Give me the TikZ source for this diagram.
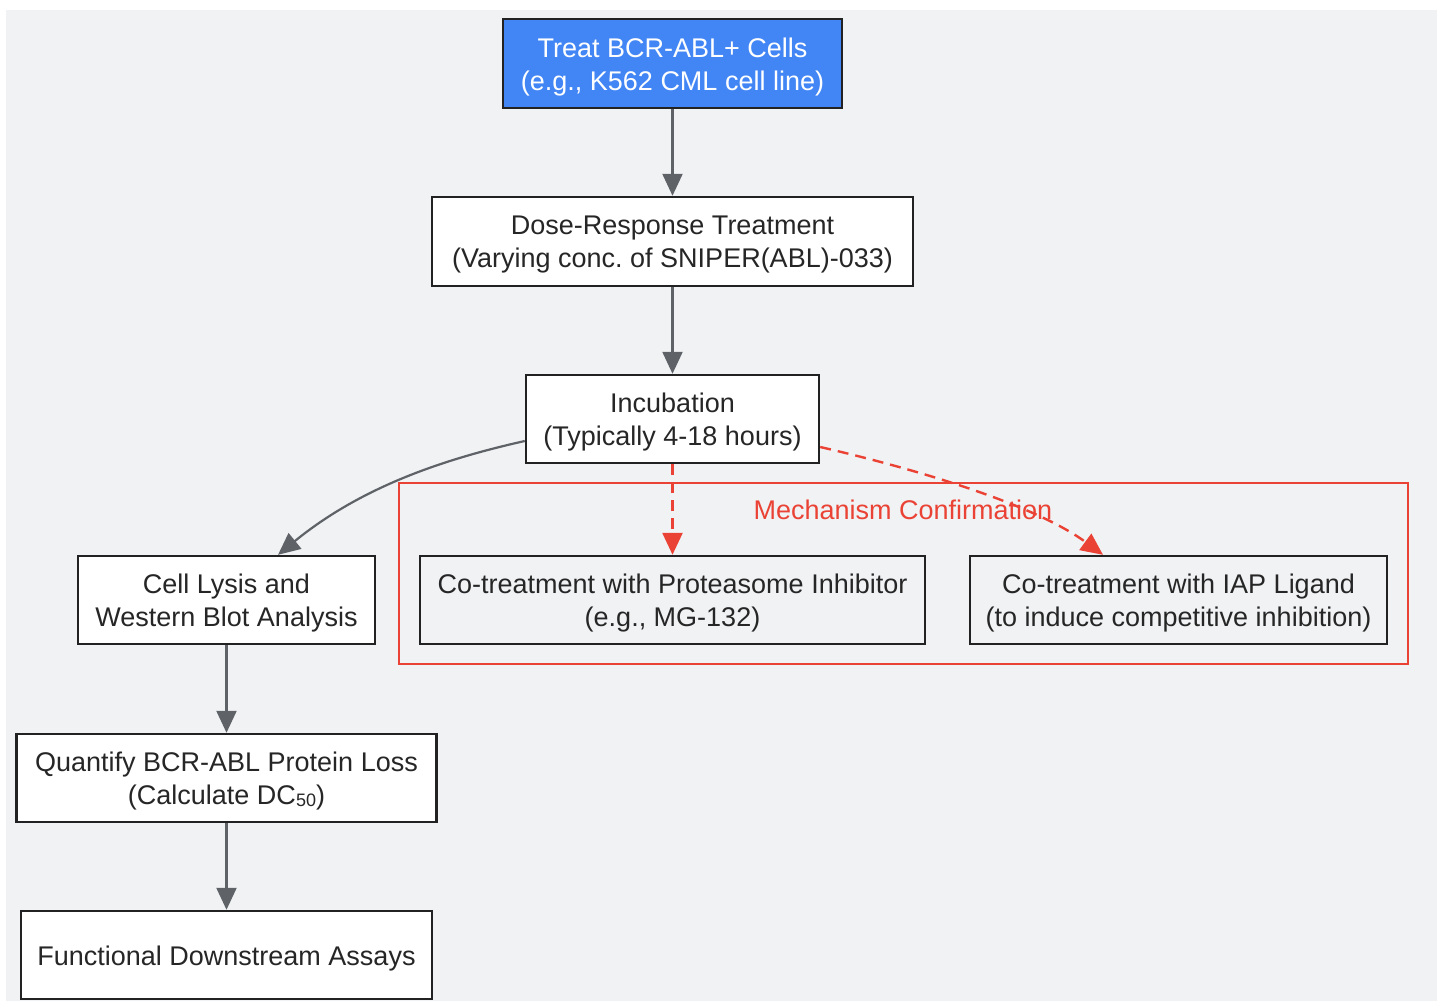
\documentclass[tikz,border=0pt]{standalone}
\usepackage{fontspec}
\setmainfont{Liberation Sans}
\usetikzlibrary{arrows.meta}
\frenchspacing
\definecolor{bgc}{HTML}{F1F2F4}
\definecolor{blu}{HTML}{4285F4}
\definecolor{edgec}{HTML}{222222}
\definecolor{txtc}{HTML}{262626}
\definecolor{arrc}{HTML}{5F6368}
\definecolor{redc}{HTML}{EA4335}
\tikzset{
  box/.style={draw=edgec, line width=2.4pt, fill=white, rectangle, inner sep=0pt},
  boxtext/.style={align=center, text=txtc, inner sep=0pt, yshift=-3.5pt,
    font=\fontsize{27}{33}\selectfont},
  clbox/.style={box, fill=bgc},
  startbox/.style={box, fill=blu},
  whitetext/.style={boxtext, text=white},
  flow/.style={draw=arrc, line width=2.2pt, -{Triangle[length=22pt,width=20pt]}},
  mech/.style={draw=redc, line width=2.4pt, dash pattern=on 11pt off 7pt,
    -{Triangle[length=22pt,width=20pt]}},
}
\begin{document}
\begin{tikzpicture}[x=1pt,y=-1pt]
\useasboundingbox (0,0) rectangle (1443,1001);
\fill[white] (0,0) rectangle (1443,1001);
\fill[bgc] (6,10) rectangle (1437,1001);
% cluster
\draw[redc, line width=2pt] (399,483) rectangle (1408,664);
\node[text=redc, font=\fontsize{27}{33}\selectfont] (mlabel) at (903,510) {Mechanism Confirmation};
% nodes
\node[startbox, minimum width=339pt, minimum height=89pt,
  label={[whitetext]center:{Treat BCR-ABL+ Cells\\(e.g., K562 CML cell line)}}] (treat) at (672.5,63.5) {};
\node[box, minimum width=481pt, minimum height=89pt,
  label={[boxtext]center:{Dose-Response Treatment\\(Varying conc. of SNIPER(ABL)-033)}}] (dose) at (672.5,241.5) {};
\node[box, minimum width=293pt, minimum height=88pt,
  label={[boxtext]center:{Incubation\\(Typically 4-18 hours)}}] (incub) at (672.5,419) {};
\node[box, minimum width=297pt, minimum height=88pt,
  label={[boxtext]center:{Cell Lysis and\\Western Blot Analysis}}] (lysis) at (226.5,600) {};
\node[clbox, minimum width=505pt, minimum height=88pt,
  label={[boxtext]center:{Co-treatment with Proteasome Inhibitor\\(e.g., MG-132)}}] (prot) at (672.5,600) {};
\node[clbox, minimum width=417pt, minimum height=88pt,
  label={[boxtext]center:{Co-treatment with IAP Ligand\\(to induce competitive inhibition)}}] (iap) at (1178.5,600) {};
\node[box, minimum width=420pt, minimum height=88pt,
  label={[boxtext]center:{Quantify BCR-ABL Protein Loss\\(Calculate DC{\fontsize{18}{18}\selectfont\raisebox{-1.5pt}{50}})}}] (quant) at (226.5,778) {};
\node[box, minimum width=411pt, minimum height=88pt,
  label={[boxtext]center:{Functional Downstream Assays}}] (func) at (226.5,955) {};
% edges
\draw[flow] (treat.south) -- (dose.north);
\draw[flow] (dose.south) -- (incub.north);
\coordinate (lstart) at ([yshift=-22pt]incub.west);
\coordinate (lend) at ([xshift=51.5pt]lysis.north);
\draw[flow] (lstart) .. controls (440,460) and (360,488) .. (lend);
\draw[mech] (incub.south) -- (prot.north);
\coordinate (istart) at ([yshift=-28pt]incub.east);
\coordinate (iend) at ([xshift=-75.5pt]iap.north);
\draw[mech] (istart) .. controls (920,470) and (1035,505) .. (iend);
\draw[flow] (lysis.south) -- (quant.north);
\draw[flow] (quant.south) -- (func.north);
\end{tikzpicture}
\end{document}
